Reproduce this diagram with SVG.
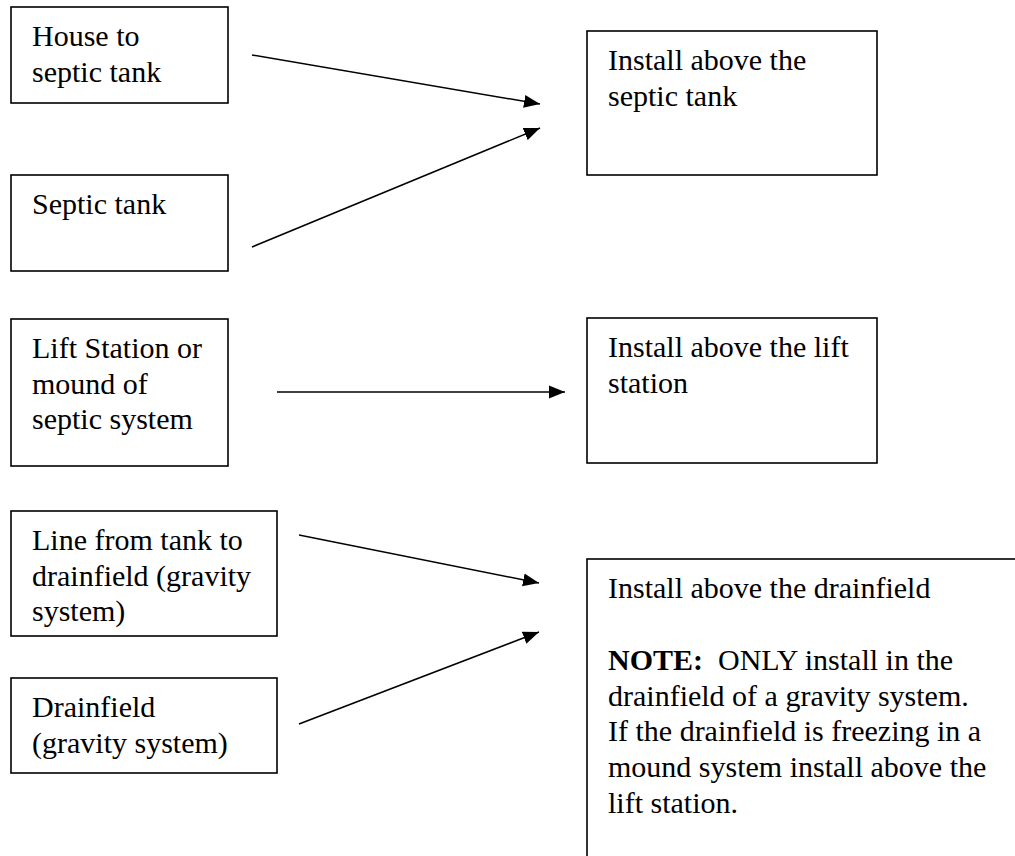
<svg xmlns="http://www.w3.org/2000/svg" width="1015" height="856" viewBox="0 0 1015 856">
<style>
.box{fill:#fff;stroke:#000;stroke-width:1.6}
.t{font-family:"Liberation Serif","Times New Roman",serif;font-size:30px;fill:#000}
.b{font-weight:bold}
.c{stroke:#000;stroke-width:1.5;fill:none;marker-end:url(#ah)}
</style>
<defs>
<marker id="ah" markerUnits="userSpaceOnUse" markerWidth="17" markerHeight="14" refX="16" refY="7" orient="auto">
<path d="M0,0.5 L16,7 L0,13.5 z" fill="#000"/>
</marker>
</defs>
<rect width="1015" height="856" fill="#fff"/>
<g id="house">
<rect class="box" x="11" y="7" width="217" height="96"/>
<text class="t" x="32" y="46">House to</text>
<text class="t" x="32" y="81.5">septic tank</text>
</g>
<g id="septic">
<rect class="box" x="11" y="175" width="217" height="96"/>
<text class="t" x="32" y="214">Septic tank</text>
</g>
<g id="lift">
<rect class="box" x="11" y="319" width="217" height="147"/>
<text class="t" x="32" y="358">Lift Station or</text>
<text class="t" x="32" y="393.5">mound of</text>
<text class="t" x="32" y="429">septic system</text>
</g>
<g id="line">
<rect class="box" x="11" y="511" width="266" height="125"/>
<text class="t" x="32" y="550">Line from tank to</text>
<text class="t" x="32" y="585.5">drainfield (gravity</text>
<text class="t" x="32" y="621">system)</text>
</g>
<g id="drainfield">
<rect class="box" x="11" y="678" width="266" height="95"/>
<text class="t" x="32" y="717">Drainfield</text>
<text class="t" x="32" y="752.5">(gravity system)</text>
</g>
<g id="install-tank">
<rect class="box" x="587" y="31" width="290" height="144"/>
<text class="t" x="608" y="70">Install above the</text>
<text class="t" x="608" y="105.5">septic tank</text>
</g>
<g id="install-lift">
<rect class="box" x="587" y="318" width="290" height="145"/>
<text class="t" x="608" y="357">Install above the lift</text>
<text class="t" x="608" y="392.5">station</text>
</g>
<g id="install-drainfield">
<rect class="box" x="587" y="559" width="500" height="400"/>
<text class="t" x="608" y="598">Install above the drainfield</text>
<text class="t" x="608" y="670" xml:space="preserve"><tspan class="b">NOTE:</tspan>  ONLY install in the</text>
<text class="t" x="608" y="706">drainfield of a gravity system.</text>
<text class="t" x="608" y="741">If the drainfield is freezing in a</text>
<text class="t" x="608" y="777">mound system install above the</text>
<text class="t" x="608" y="813">lift station.</text>
</g>
<g id="connectors">
<line class="c" x1="252" y1="55" x2="540" y2="104"/>
<line class="c" x1="252" y1="247" x2="540" y2="128"/>
<line class="c" x1="277" y1="392" x2="565" y2="392"/>
<line class="c" x1="299" y1="535" x2="539" y2="583"/>
<line class="c" x1="299" y1="724" x2="539" y2="632"/>
</g>
</svg>
